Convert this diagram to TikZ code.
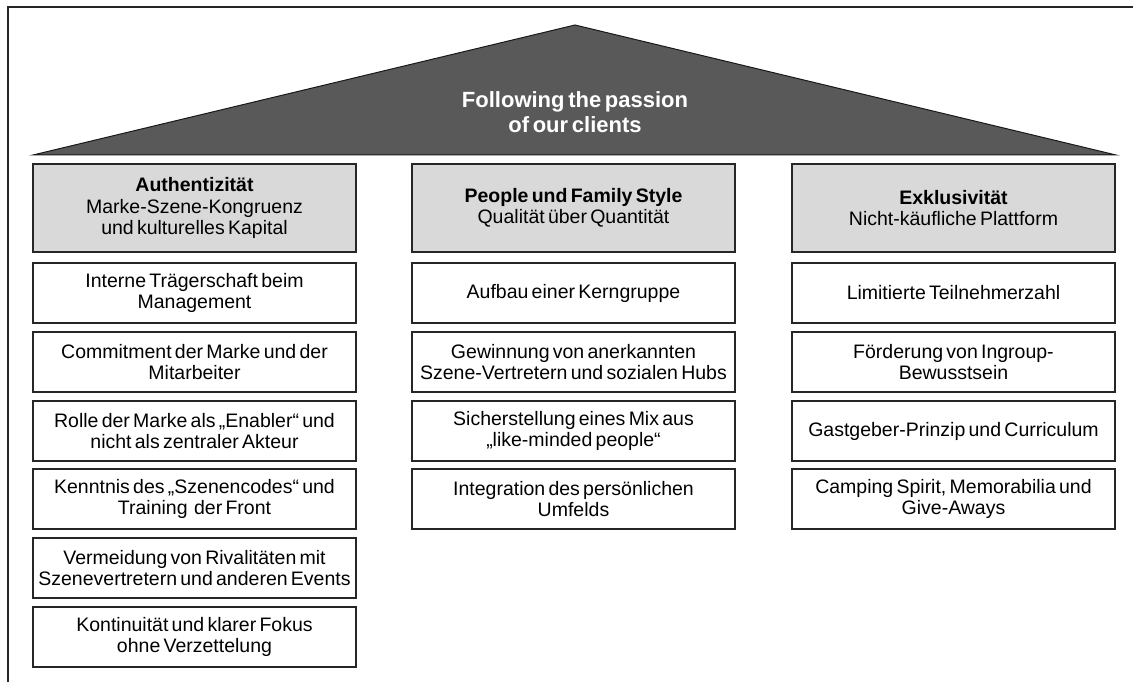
\documentclass[tikz,border=0pt]{standalone}
\usepackage{fontspec}
\setmainfont{Liberation Sans}[WordSpace=0.6]
\begin{document}
\begin{tikzpicture}[x=1pt,y=-1pt,
  frame/.style={draw=black!85, line width=1.2pt},
  roof/.style={fill=black!65, draw=black!90, line width=1pt},
  pillar/.style={draw=black!85, fill=black!15, line width=1.3pt,
    minimum width=323pt, minimum height=88pt, align=center, inner sep=0pt,
    font=\fontsize{19.5}{21.5}\selectfont},
  item/.style={draw=black!85, fill=white, line width=1.3pt,
    minimum width=323pt, minimum height=60pt, align=center, inner sep=0pt,
    font=\fontsize{19.5}{21}\selectfont},
  roofText/.style={text=white, align=center, font=\fontsize{22}{24.5}\selectfont\bfseries},
]
\useasboundingbox (0,0) rectangle (1133,682);
% outer frame (runs off the page on the right and at the bottom)
\draw[frame] (8,7) rectangle (1160,720);

% roof
\draw[roof] (33,155) -- (575,25) -- (1116,155) -- cycle;
\node[roofText] (title) at (575,112) {Following the passion\\of our clients};

% pillar heads
\node[pillar] (h1) at (194.5,208) {\textbf{Authentizität}\\Marke-Szene-Kongruenz\\und kulturelles Kapital};
\node[pillar] (h2) at (573.5,208) {\textbf{People und Family Style}\\Qualität über Quantität};
\node[pillar] (h3) at (953.5,208) {\textbf{Exklusivität}\\Nicht-käufliche Plattform};

% left column
\node[item] (a1) at (194.5,293) {Interne Trägerschaft beim\\Management};
\node[item] (a2) at (194.5,362) {Commitment der Marke und der\\Mitarbeiter};
\node[item] (a3) at (194.5,431) {Rolle der Marke als „Enabler“ und\\nicht als zentraler Akteur};
\node[item] (a4) at (194.5,499) {Kenntnis des „Szenencodes“ und\\Training\ \ der Front};
\node[item] (a5) at (194.5,568) {Vermeidung von Rivalitäten mit\\Szenevertretern und anderen Events};
\node[item] (a6) at (194.5,637) {Kontinuität und klarer Fokus\\ohne Verzettelung};

% middle column
\node[item] (b1) at (573.5,293) {Aufbau einer Kerngruppe};
\node[item] (b2) at (573.5,362) {Gewinnung von anerkannten\\Szene-Vertretern und sozialen Hubs};
\node[item] (b3) at (573.5,431) {Sicherstellung eines Mix aus\\„like-minded people“};
\node[item] (b4) at (573.5,499) {Integration des persönlichen\\Umfelds};

% right column
\node[item] (c1) at (953.5,293) {Limitierte Teilnehmerzahl};
\node[item] (c2) at (953.5,362) {Förderung von Ingroup-\\Bewusstsein};
\node[item] (c3) at (953.5,431) {Gastgeber-Prinzip und Curriculum};
\node[item] (c4) at (953.5,499) {Camping Spirit, Memorabilia und\\Give-Aways};
\end{tikzpicture}
\end{document}
